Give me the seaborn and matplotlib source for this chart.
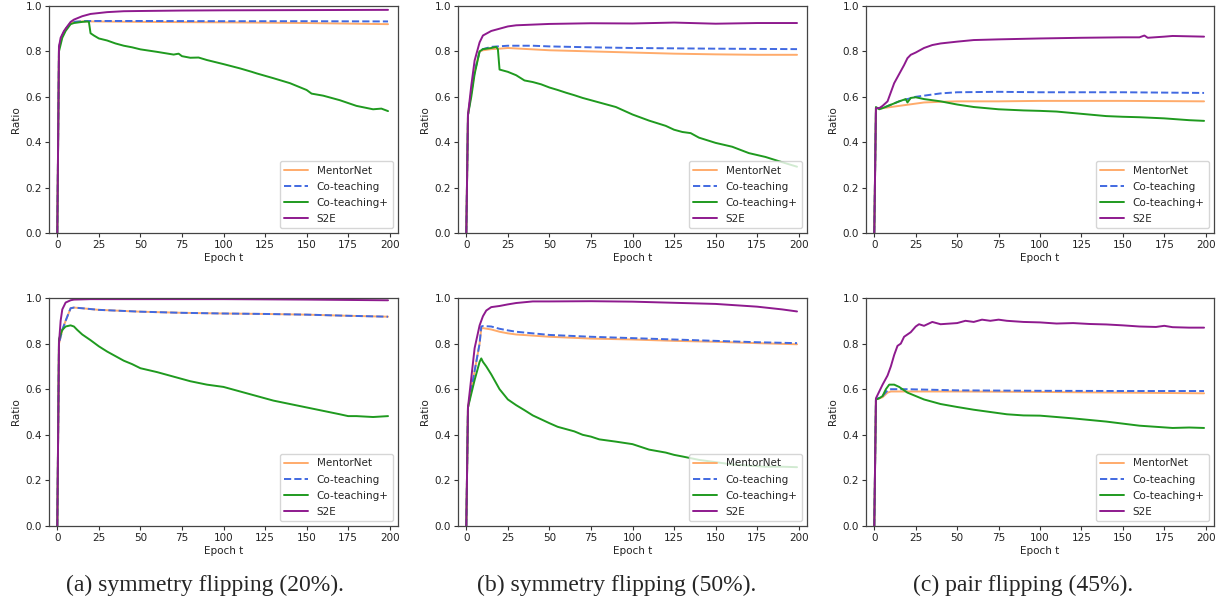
import matplotlib
matplotlib.use("Agg")
import matplotlib.pyplot as plt
import seaborn as sns
import pandas as pd

sns.set_style("white")
plt.rcParams['font.family'] = ['DejaVu Sans']

methods = ["MentorNet", "Co-teaching", "Co-teaching+", "S2E"]
captions = ["(a) symmetry flipping (20%).", "(b) symmetry flipping (50%).", "(c) pair flipping (45%)."]
x_ticks = [0, 25, 50, 75, 100, 125, 150, 175, 200]
y_ticks = [0.0, 0.2, 0.4, 0.6, 0.8, 1.0]

# ---------- Panel (top-left): symmetry 20% ----------
a_mentor_x = [0, 1, 3, 5, 8, 10, 15, 20, 50, 100, 150, 199]
a_mentor_y = [0.0, 0.82, 0.87, 0.90, 0.925, 0.93, 0.932, 0.932, 0.93, 0.928, 0.925, 0.92]
a_cot_x = [0, 1, 3, 5, 8, 10, 15, 20, 50, 100, 150, 199]
a_cot_y = [0.0, 0.82, 0.87, 0.90, 0.925, 0.93, 0.933, 0.934, 0.934, 0.933, 0.933, 0.932]
a_cotp_x = [0, 1, 3, 5, 8, 10, 15, 18, 19, 20, 22, 25, 30, 35, 40, 45, 50, 60, 70, 73, 75, 80, 85, 90,
            100, 110, 117, 120, 130, 140, 150, 153, 160, 170, 180, 190, 195, 199]
a_cotp_y = [0.0, 0.80, 0.86, 0.89, 0.92, 0.925, 0.93, 0.932, 0.93, 0.88, 0.87, 0.857, 0.848, 0.835, 0.825,
            0.818, 0.809, 0.798, 0.786, 0.79, 0.779, 0.772, 0.773, 0.762, 0.744, 0.725, 0.71, 0.703, 0.682,
            0.66, 0.63, 0.614, 0.605, 0.585, 0.56, 0.545, 0.548, 0.537]
a_s2e_x = [0, 1, 2, 4, 6, 8, 10, 15, 20, 30, 40, 50, 75, 100, 150, 199]
a_s2e_y = [0.0, 0.82, 0.86, 0.89, 0.91, 0.93, 0.94, 0.955, 0.965, 0.973, 0.977, 0.978, 0.98, 0.981, 0.982, 0.983]

# ---------- Panel (top-middle): symmetry 50% ----------
b_mentor_x = [0, 1, 3, 5, 8, 10, 15, 20, 25, 30, 50, 75, 100, 125, 150, 175, 199]
b_mentor_y = [0.0, 0.52, 0.62, 0.71, 0.80, 0.805, 0.81, 0.812, 0.815, 0.813, 0.805, 0.80, 0.795, 0.79,
              0.787, 0.785, 0.785]
b_cot_x = [0, 1, 3, 5, 8, 10, 15, 25, 40, 50, 75, 100, 150, 199]
b_cot_y = [0.0, 0.52, 0.62, 0.71, 0.80, 0.81, 0.82, 0.825, 0.825, 0.822, 0.818, 0.815, 0.812, 0.81]
b_cotp_x = [0, 1, 3, 5, 8, 10, 15, 18, 19, 20, 25, 30, 35, 40, 45, 50, 55, 60, 65, 70, 75, 80, 85, 90,
            100, 110, 120, 125, 130, 135, 140, 150, 160, 170, 180, 190, 199]
b_cotp_y = [0.0, 0.52, 0.60, 0.70, 0.80, 0.81, 0.815, 0.82, 0.81, 0.72, 0.71, 0.695, 0.672, 0.665, 0.655,
            0.641, 0.63, 0.618, 0.607, 0.595, 0.585, 0.575, 0.565, 0.555, 0.522, 0.495, 0.472, 0.455,
            0.445, 0.44, 0.42, 0.397, 0.38, 0.352, 0.335, 0.312, 0.292]
b_s2e_x = [0, 1, 3, 5, 8, 10, 15, 20, 25, 30, 50, 75, 100, 125, 150, 175, 199]
b_s2e_y = [0.0, 0.52, 0.65, 0.76, 0.84, 0.87, 0.89, 0.90, 0.91, 0.915, 0.921, 0.924, 0.923, 0.927, 0.922,
           0.925, 0.925]

# ---------- Panel (top-right): pair 45% ----------
c_mentor_x = [0, 1, 3, 5, 10, 15, 20, 25, 30, 40, 50, 75, 100, 150, 199]
c_mentor_y = [0.0, 0.55, 0.55, 0.55, 0.555, 0.56, 0.565, 0.57, 0.575, 0.578, 0.58, 0.58, 0.582, 0.582, 0.58]
c_cot_x = [0, 1, 3, 5, 10, 15, 20, 25, 30, 40, 50, 75, 100, 150, 199]
c_cot_y = [0.0, 0.55, 0.55, 0.55, 0.565, 0.58, 0.59, 0.60, 0.605, 0.615, 0.62, 0.622, 0.62, 0.62, 0.617]
c_cotp_x = [0, 1, 3, 5, 10, 15, 19, 20, 22, 25, 30, 40, 50, 60, 75, 90, 100, 110, 125, 140, 150, 160,
            175, 190, 199]
c_cotp_y = [0.0, 0.555, 0.545, 0.55, 0.565, 0.58, 0.59, 0.575, 0.595, 0.598, 0.59, 0.58, 0.566, 0.555,
            0.545, 0.54, 0.538, 0.535, 0.525, 0.515, 0.512, 0.51, 0.505, 0.497, 0.494]
c_s2e_x = [0, 1, 3, 5, 8, 10, 12, 15, 18, 20, 22, 25, 30, 35, 40, 50, 60, 75, 100, 125, 150, 160, 163,
           165, 175, 180, 199]
c_s2e_y = [0.0, 0.55, 0.55, 0.56, 0.58, 0.62, 0.66, 0.70, 0.74, 0.77, 0.785, 0.795, 0.815, 0.828, 0.835,
           0.843, 0.85, 0.853, 0.857, 0.86, 0.862, 0.862, 0.87, 0.86, 0.865, 0.868, 0.865]

# ---------- Panel (bottom-left): symmetry 20% ----------
d_mentor_x = [0, 1, 3, 5, 8, 10, 15, 25, 50, 75, 100, 125, 150, 175, 199]
d_mentor_y = [0.0, 0.80, 0.86, 0.90, 0.955, 0.958, 0.955, 0.948, 0.94, 0.935, 0.932, 0.93, 0.927, 0.922, 0.918]
d_cot_x = [0, 1, 3, 5, 8, 10, 15, 25, 50, 75, 100, 125, 150, 175, 199]
d_cot_y = [0.0, 0.80, 0.86, 0.90, 0.955, 0.958, 0.955, 0.948, 0.94, 0.935, 0.932, 0.93, 0.927, 0.922, 0.918]
d_cotp_x = [0, 1, 3, 5, 8, 10, 12, 15, 20, 25, 30, 35, 40, 45, 50, 60, 70, 75, 80, 90, 100, 110, 120,
            130, 140, 150, 160, 170, 175, 180, 190, 199]
d_cotp_y = [0.0, 0.82, 0.86, 0.875, 0.88, 0.875, 0.86, 0.84, 0.815, 0.788, 0.765, 0.745, 0.725, 0.71,
            0.692, 0.675, 0.655, 0.645, 0.635, 0.62, 0.61, 0.59, 0.57, 0.55, 0.535, 0.52, 0.505, 0.49,
            0.482, 0.482, 0.478, 0.482]
d_s2e_x = [0, 1, 2, 3, 5, 8, 10, 20, 50, 100, 150, 199]
d_s2e_y = [0.0, 0.80, 0.90, 0.95, 0.98, 0.99, 0.993, 0.995, 0.995, 0.995, 0.993, 0.99]

# ---------- Panel (bottom-middle): symmetry 50% ----------
e_mentor_x = [0, 1, 3, 5, 8, 9, 10, 15, 20, 25, 30, 40, 50, 75, 100, 125, 150, 175, 199]
e_mentor_y = [0.0, 0.52, 0.60, 0.68, 0.80, 0.865, 0.868, 0.862, 0.852, 0.845, 0.84, 0.835, 0.83, 0.822,
              0.818, 0.812, 0.808, 0.802, 0.797]
e_cot_x = [0, 1, 3, 5, 8, 9, 10, 15, 20, 25, 30, 40, 50, 75, 100, 125, 150, 175, 199]
e_cot_y = [0.0, 0.52, 0.60, 0.68, 0.80, 0.875, 0.877, 0.875, 0.865, 0.858, 0.852, 0.845, 0.838, 0.83,
           0.824, 0.818, 0.812, 0.806, 0.802]
e_cotp_x = [0, 1, 3, 5, 8, 9, 10, 12, 15, 20, 25, 30, 35, 40, 45, 50, 55, 60, 65, 70, 75, 80, 90, 100,
            110, 120, 125, 130, 140, 150, 160, 170, 180, 190, 199]
e_cotp_y = [0.0, 0.52, 0.58, 0.64, 0.72, 0.735, 0.72, 0.70, 0.665, 0.60, 0.555, 0.53, 0.508, 0.485,
            0.468, 0.451, 0.435, 0.425, 0.415, 0.40, 0.392, 0.38, 0.37, 0.359, 0.335, 0.322, 0.312,
            0.305, 0.29, 0.28, 0.27, 0.265, 0.26, 0.26, 0.258]
e_s2e_x = [0, 1, 3, 5, 8, 10, 12, 15, 20, 25, 30, 40, 50, 75, 100, 125, 150, 175, 190, 199]
e_s2e_y = [0.0, 0.52, 0.65, 0.78, 0.88, 0.92, 0.945, 0.96, 0.965, 0.972, 0.978, 0.985, 0.985, 0.986,
           0.984, 0.979, 0.974, 0.962, 0.95, 0.941]

# ---------- Panel (bottom-right): pair 45% ----------
f_mentor_x = [0, 1, 5, 8, 10, 20, 50, 100, 150, 199]
f_mentor_y = [0.0, 0.555, 0.565, 0.585, 0.59, 0.59, 0.59, 0.588, 0.585, 0.582]
f_cot_x = [0, 1, 5, 8, 10, 20, 50, 100, 150, 199]
f_cot_y = [0.0, 0.555, 0.57, 0.595, 0.60, 0.60, 0.595, 0.593, 0.592, 0.592]
f_cotp_x = [0, 1, 3, 5, 7, 9, 12, 15, 18, 20, 25, 30, 40, 50, 60, 70, 75, 80, 90, 100, 110, 120, 130,
            140, 150, 160, 170, 180, 190, 199]
f_cotp_y = [0.0, 0.555, 0.56, 0.57, 0.60, 0.62, 0.62, 0.61, 0.595, 0.585, 0.57, 0.555, 0.535, 0.522,
            0.51, 0.50, 0.495, 0.49, 0.485, 0.484, 0.478, 0.472, 0.465, 0.458, 0.449, 0.44, 0.435,
            0.43, 0.432, 0.43]
f_s2e_x = [0, 1, 3, 5, 8, 10, 12, 14, 16, 18, 20, 22, 25, 27, 30, 35, 40, 50, 55, 60, 65, 70, 75, 80,
           90, 100, 110, 120, 130, 140, 150, 160, 170, 175, 180, 190, 199]
f_s2e_y = [0.0, 0.56, 0.59, 0.62, 0.66, 0.70, 0.75, 0.79, 0.80, 0.83, 0.84, 0.85, 0.875, 0.885, 0.878,
           0.895, 0.885, 0.89, 0.90, 0.895, 0.905, 0.90, 0.905, 0.90, 0.895, 0.893, 0.888, 0.89, 0.886,
           0.884, 0.88, 0.875, 0.873, 0.878, 0.872, 0.87, 0.87]

panels = [
    [(a_mentor_x, a_mentor_y), (a_cot_x, a_cot_y), (a_cotp_x, a_cotp_y), (a_s2e_x, a_s2e_y)],
    [(b_mentor_x, b_mentor_y), (b_cot_x, b_cot_y), (b_cotp_x, b_cotp_y), (b_s2e_x, b_s2e_y)],
    [(c_mentor_x, c_mentor_y), (c_cot_x, c_cot_y), (c_cotp_x, c_cotp_y), (c_s2e_x, c_s2e_y)],
    [(d_mentor_x, d_mentor_y), (d_cot_x, d_cot_y), (d_cotp_x, d_cotp_y), (d_s2e_x, d_s2e_y)],
    [(e_mentor_x, e_mentor_y), (e_cot_x, e_cot_y), (e_cotp_x, e_cotp_y), (e_s2e_x, e_s2e_y)],
    [(f_mentor_x, f_mentor_y), (f_cot_x, f_cot_y), (f_cotp_x, f_cotp_y), (f_s2e_x, f_s2e_y)],
]

colors = {"MentorNet": "#ffab6b", "Co-teaching": "#4169e1", "Co-teaching+": "#1f9a1f", "S2E": "#8e1a8e"}
styles = {"MentorNet": "-", "Co-teaching": "--", "Co-teaching+": "-", "S2E": "-"}

W, H = 1220, 609
fig = plt.figure(figsize=(W / 100, H / 100), dpi=100)

col_px = [(49, 398), (458, 807), (866, 1214)]
row_px = [(6, 233), (298, 526)]

for idx, series in enumerate(panels):
    r, c = divmod(idx, 3)
    x0, x1 = col_px[c]
    y0, y1 = row_px[r]
    ax = fig.add_axes([x0 / W, 1 - y1 / H, (x1 - x0) / W, (y1 - y0) / H])
    for name, (xs, ys) in zip(methods, series):
        df = pd.DataFrame({"Epoch": xs, "Ratio": ys})
        sns.lineplot(data=df, x="Epoch", y="Ratio", ax=ax, color=colors[name],
                     linestyle=styles[name], linewidth=1.4, label=name)
    ax.set_xlim(-5, 205)
    ax.set_ylim(0, 1.0)
    ax.set_xticks(x_ticks)
    ax.set_yticks(y_ticks)
    ax.set_yticklabels([f"{v:.1f}" for v in y_ticks])
    ax.tick_params(axis="both", labelsize=7.5, length=3, width=0.8, color="#333333",
                   labelcolor="#222222", direction="out", bottom=True, left=True, pad=2)
    ax.set_xlabel("Epoch t", fontsize=7.5, labelpad=2, color="#222222")
    ax.set_ylabel("Ratio", fontsize=7.5, labelpad=3, color="#222222")
    for s in ax.spines.values():
        s.set_color("#444444")
        s.set_linewidth(0.9)
    leg = ax.legend(loc="lower right", fontsize=7.5, frameon=True, handlelength=2.3,
                    borderpad=0.45, labelspacing=0.58, fancybox=True, borderaxespad=0.45)
    leg.get_frame().set_edgecolor("#cccccc")

centers = [205, 617, 1023]
for cx, cap in zip(centers, captions):
    fig.text(cx / W, 1 - 585 / H, cap, ha="center", va="center",
             family="Liberation Serif", fontsize=17)

fig.savefig("out.png", dpi=100)
